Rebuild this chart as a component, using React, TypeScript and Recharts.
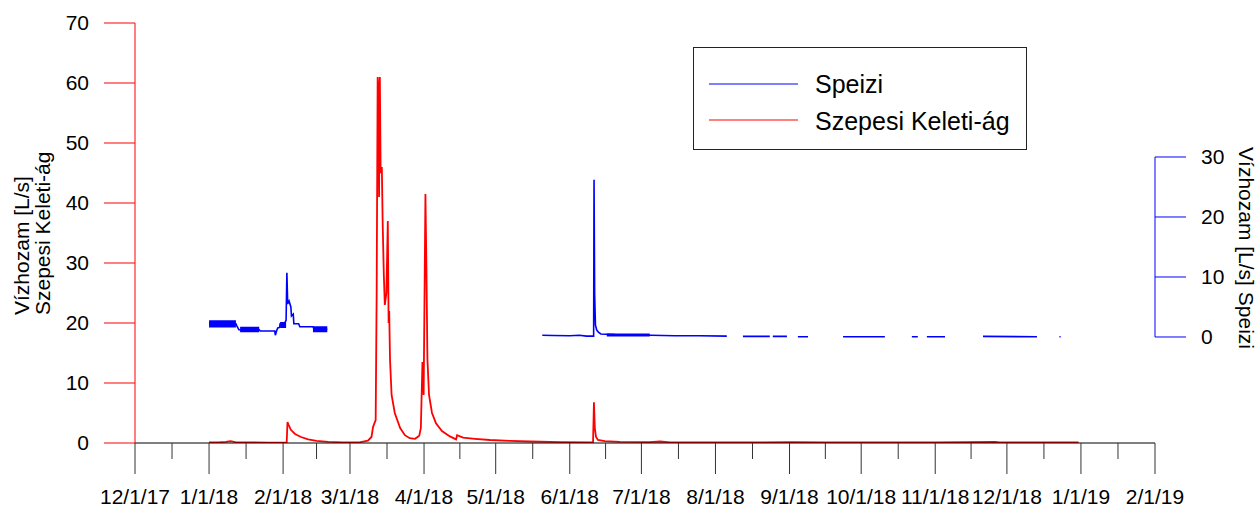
import React from 'react';
import { ComposedChart, Line, Area, XAxis, YAxis, Legend, ReferenceLine } from 'recharts';

const FONT = '"Liberation Sans", Arial, sans-serif';

// ---- axis / tick labels ----
const monthTickDates = [
  '2017-12-01', '2018-01-01', '2018-02-01', '2018-03-01', '2018-04-01', '2018-05-01', '2018-06-01', '2018-07-01',
  '2018-08-01', '2018-09-01', '2018-10-01', '2018-11-01', '2018-12-01', '2019-01-01', '2019-02-01',
];
const monthTickLabels = [
  '12/1/17', '1/1/18', '2/1/18', '3/1/18', '4/1/18', '5/1/18', '6/1/18', '7/1/18',
  '8/1/18', '9/1/18', '10/1/18', '11/1/18', '12/1/18', '1/1/19', '2/1/19',
];
const leftTicks = [0, 10, 20, 30, 40, 50, 60, 70];
const rightTicks = [0, 10, 20, 30];
const leftTitleLines = ['Vízhozam [L/s]', 'Szepesi Keleti-ág'];
const rightTitle = 'Vízhozam [L/s] Speizi';
const seriesNames = ['Speizi', 'Szepesi Keleti-ág'];
const seriesColors = ['#0000ff', '#ff0000'];

// ---- Szepesi Keleti-ág (left axis) ----
const szepesiDates = [
  '2018-01-01T00', '2018-01-05T00', '2018-01-08T00', '2018-01-10T00', '2018-01-12T00', '2018-01-18T00',
  '2018-01-26T00', '2018-02-02T12', '2018-02-02T20', '2018-02-03T08', '2018-02-04T06', '2018-02-06T00',
  '2018-02-08T12', '2018-02-11T12', '2018-02-15T00', '2018-02-20T00', '2018-02-26T00', '2018-03-05T00',
  '2018-03-08T12', '2018-03-10T00', '2018-03-10T16', '2018-03-11T18', '2018-03-12T04', '2018-03-12T14',
  '2018-03-12T22', '2018-03-13T04', '2018-03-13T12', '2018-03-13T20', '2018-03-14T08', '2018-03-14T16',
  '2018-03-15T04', '2018-03-15T14', '2018-03-16T06', '2018-03-16T20', '2018-03-17T04', '2018-03-17T10',
  '2018-03-17T18', '2018-03-18T10', '2018-03-19T18', '2018-03-22T00', '2018-03-24T00', '2018-03-26T00',
  '2018-03-28T06', '2018-03-30T00', '2018-03-30T16', '2018-03-31T08', '2018-03-31T20', '2018-04-01T14',
  '2018-04-02T00', '2018-04-02T10', '2018-04-03T02', '2018-04-04T08', '2018-04-06T00', '2018-04-08T12',
  '2018-04-11T20', '2018-04-14T10', '2018-04-14T20', '2018-04-17T08', '2018-04-22T08', '2018-04-28T14',
  '2018-05-07T00', '2018-05-15T08', '2018-05-28T00', '2018-06-10T18', '2018-06-11T03', '2018-06-11T12',
  '2018-06-12T00', '2018-06-12T20', '2018-06-15T16', '2018-06-22T00', '2018-07-04T12', '2018-07-08T20',
  '2018-07-13T00', '2018-08-01T00', '2018-08-20T00', '2018-09-02T00', '2018-09-15T00', '2018-10-10T00',
  '2018-11-01T00', '2018-11-26T00', '2018-11-28T00', '2018-12-15T00', '2018-12-31T00',
];
const szepesiValues = [
  0.1, 0.12, 0.2, 0.3, 0.15, 0.1,
  0.06, 0.05, 3.5, 3.0, 2.2, 1.5,
  1.0, 0.6, 0.35, 0.2, 0.12, 0.12,
  0.4, 1.0, 2.7, 3.8, 25, 61,
  59, 41, 61, 45, 46, 37,
  28, 23, 25, 37, 20, 22,
  14, 8, 5, 2.5, 1.3, 0.8,
  0.7, 1.2, 2.5, 13.5, 8, 41.5,
  29, 14, 8, 5, 3.3, 2,
  1.1, 0.6, 1.3, 0.9, 0.7, 0.5,
  0.35, 0.25, 0.15, 0.1, 6.8, 2.5,
  1.0, 0.5, 0.3, 0.2, 0.15, 0.25,
  0.12, 0.1, 0.1, 0.15, 0.1, 0.1,
  0.08, 0.2, 0.1, 0.1, 0.1,
];

// ---- Speizi (right axis), null = data gap ----
const speiziDates = [
  '2018-01-01T00', '2018-01-12T06', '2018-01-12T14', '2018-01-13T12', '2018-01-22T00', '2018-01-22T12',
  '2018-01-28T12', '2018-01-28T18', '2018-01-29T06', '2018-01-29T18', '2018-01-30T12', '2018-01-30T18',
  '2018-02-01T12', '2018-02-02T06', '2018-02-02T14', '2018-02-02T22', '2018-02-03T12', '2018-02-04T06',
  '2018-02-04T12', '2018-02-05T06', '2018-02-05T12', '2018-02-07T12', '2018-02-08T00', '2018-02-13T12',
  '2018-02-14T00', '2018-02-19T12', '2018-03-01T00',
  '2018-05-20T12', '2018-05-25T00', '2018-06-01T00', '2018-06-05T00', '2018-06-08T00', '2018-06-11T00',
  '2018-06-11T04', '2018-06-11T10', '2018-06-11T18', '2018-06-12T06', '2018-06-13T00', '2018-06-14T00',
  '2018-06-20T00', '2018-06-28T00', '2018-07-05T00', '2018-07-15T00', '2018-07-25T00', '2018-08-05T18',
  '2018-08-09T00',
  '2018-08-12T12', '2018-08-23T18', '2018-08-24T12',
  '2018-08-25T00', '2018-08-30T22', '2018-09-02T00',
  '2018-09-04T12', '2018-09-08T18', '2018-09-15T00',
  '2018-09-23T10', '2018-10-10T22', '2018-10-15T00',
  '2018-10-22T05', '2018-10-24T17', '2018-10-26T00',
  '2018-10-28T12', '2018-11-05T02', '2018-11-12T00',
  '2018-11-21T00', '2018-12-13T14', '2018-12-18T00',
  '2018-12-23T00', '2018-12-23T12',
];
const speiziValues = [
  2.2, 2.2, 1.9, 1.2, 1.2, 1.0,
  1.0, 0.3, 1.0, 1.5, 1.6, 2.2,
  2.2, 2.8, 10.7, 5.5, 6.0, 5.0,
  3.5, 3.8, 2.2, 2.2, 1.7, 1.7,
  1.3, 1.3, null,
  0.3, 0.25, 0.2, 0.3, 0.15, 0.15,
  26.2, 7.3, 2.0, 1.2, 0.8, 0.5,
  0.4, 0.35, 0.3, 0.2, 0.2, 0.15,
  null,
  0.1, 0.1, null,
  0.1, 0.1, null,
  0.05, 0.05, null,
  0.05, 0.05, null,
  0.05, 0.05, null,
  0.05, 0.05, null,
  0.1, 0.05, null,
  0.05, 0.05,
];

// ---- Speizi noise envelope (right axis) ----
const speiziBandStart = ['2018-01-01T00', '2018-01-14T00', '2018-01-30T18', '2018-02-13T12', '2018-06-16T12'];
const speiziBandEnd = ['2018-01-12T06', '2018-01-22T00', '2018-02-02T06', '2018-02-19T12', '2018-07-04T12'];
const speiziBandLow = [1.6, 0.8, 1.5, 0.8, 0.1];
const speiziBandHigh = [2.8, 1.7, 2.5, 1.8, 0.6];

const toT = (s: string) => Date.parse(s.length === 10 ? s + 'T00:00:00Z' : s + ':00:00Z');

const majorTicks = monthTickDates.map(toT);
const minorTicks = majorTicks.slice(0, -1).map((t, i) => (t + majorTicks[i + 1]) / 2);
const xTicks = [...majorTicks, ...minorTicks].sort((a, b) => a - b);
const xDomain = [majorTicks[0], majorTicks[majorTicks.length - 1]];

const szepesiData = szepesiDates.map((d, i) => ({ t: toT(d), v: szepesiValues[i] }));
const speiziData = speiziDates.map((d, i) => ({ t: toT(d), v: speiziValues[i] }));
const bandData: { t: number; range: number[] | null }[] = [];
speiziBandStart.forEach((s, i) => {
  bandData.push({ t: toT(s), range: [speiziBandLow[i], speiziBandHigh[i]] });
  bandData.push({ t: toT(speiziBandEnd[i]), range: [speiziBandLow[i], speiziBandHigh[i]] });
  bandData.push({ t: toT(speiziBandEnd[i]) + 3600000, range: null });
});

// right axis shares the left axis pixel scale: right 0 sits at left value 17.667
const rightDomain = [-17.667, 52.333];

const XTick = (props: any) => {
  const { x, y, payload } = props;
  const idx = majorTicks.indexOf(payload.value);
  const major = idx >= 0;
  return (
    <g>
      <line x1={x} x2={x} y1={y} y2={y + (major ? 31 : 16)} stroke="#333" strokeWidth={1} />
      {major && (
        <text x={x} y={y + 61} textAnchor="middle" fontSize={21} fontFamily={FONT} fill="#000">
          {monthTickLabels[idx]}
        </text>
      )}
    </g>
  );
};

const LeftTitle = () => (
  <g fontFamily={FONT} fontSize={21} fill="#000">
    <text transform="translate(29,315) rotate(-90)">{leftTitleLines[0]}</text>
    <text transform="translate(50,315) rotate(-90)">{leftTitleLines[1]}</text>
  </g>
);

const RightTitle = () => (
  <g fontFamily={FONT} fontSize={21} fill="#000">
    <text transform="translate(1239,248) rotate(90)" textAnchor="middle">{rightTitle}</text>
  </g>
);

const LegendBox = () => (
  <svg width={334} height={103} style={{ display: 'block' }}>
    <rect x={0.5} y={0.5} width={333} height={102} fill="#fff" stroke="#222" strokeWidth={1} />
    {seriesNames.map((n, i) => (
      <g key={n}>
        <line x1={16} x2={105} y1={37 + i * 36} y2={37 + i * 36} stroke={seriesColors[i]} strokeWidth={1.2} />
        <text x={122} y={46 + i * 37} fontSize={25} fontFamily={FONT} fill="#000">{n}</text>
      </g>
    ))}
  </svg>
);

export default function App() {
  return (
    <div style={{ position: 'fixed', left: 0, top: 0, width: 1260, height: 510, background: '#fff' }}>
      <ComposedChart width={1260} height={510} margin={{ top: 23, right: 0, bottom: 0, left: 0 }}>
        <XAxis
          xAxisId="x"
          dataKey="t"
          type="number"
          domain={xDomain}
          allowDataOverflow
          ticks={xTicks}
          interval={0}
          height={67}
          tickSize={0}
          tickMargin={0}
          tickLine={false}
          axisLine={{ stroke: '#000', strokeWidth: 1 }}
          tick={<XTick />}
        />
        <YAxis
          yAxisId="left"
          orientation="left"
          width={135}
          type="number"
          domain={[0, 70]}
          ticks={leftTicks}
          interval={0}
          allowDataOverflow
          tickSize={31}
          tickMargin={15}
          axisLine={{ stroke: '#ff0000', strokeWidth: 1 }}
          tickLine={{ stroke: '#ff0000', strokeWidth: 1 }}
          tick={{ fill: '#000', fontSize: 21, fontFamily: FONT }}
          label={<LeftTitle />}
        />
        <YAxis
          yAxisId="right"
          orientation="right"
          width={105}
          type="number"
          domain={rightDomain}
          ticks={rightTicks}
          interval={0}
          allowDataOverflow
          tickSize={31}
          tickMargin={15}
          axisLine={false}
          tickLine={{ stroke: '#0000ff', strokeWidth: 1 }}
          tick={{ fill: '#000', fontSize: 21, fontFamily: FONT, textAnchor: 'start' }}
          label={<RightTitle />}
        />
        <ReferenceLine
          xAxisId="x"
          yAxisId="right"
          segment={[{ x: xDomain[1], y: rightTicks[0] }, { x: xDomain[1], y: rightTicks[rightTicks.length - 1] }]}
          stroke="#0000ff"
          strokeWidth={1}
          ifOverflow="visible"
        />
        <Area
          xAxisId="x"
          yAxisId="right"
          data={bandData}
          dataKey="range"
          type="linear"
          stroke="none"
          fill="#0000ff"
          fillOpacity={1}
          connectNulls={false}
          isAnimationActive={false}
          legendType="none"
        />
        <Line
          xAxisId="x"
          yAxisId="right"
          data={speiziData}
          dataKey="v"
          name={seriesNames[0]}
          type="linear"
          stroke={seriesColors[0]}
          strokeWidth={1.6}
          dot={false}
          connectNulls={false}
          isAnimationActive={false}
        />
        <Line
          xAxisId="x"
          yAxisId="left"
          data={szepesiData}
          dataKey="v"
          name={seriesNames[1]}
          type="linear"
          stroke={seriesColors[1]}
          strokeWidth={1.8}
          dot={false}
          isAnimationActive={false}
        />
        <Legend
          layout="horizontal"
          verticalAlign="middle"
          align="center"
          content={<LegendBox />}
          wrapperStyle={{ position: 'absolute', left: 693, top: 47, width: 334, height: 103 }}
        />
      </ComposedChart>
    </div>
  );
}
